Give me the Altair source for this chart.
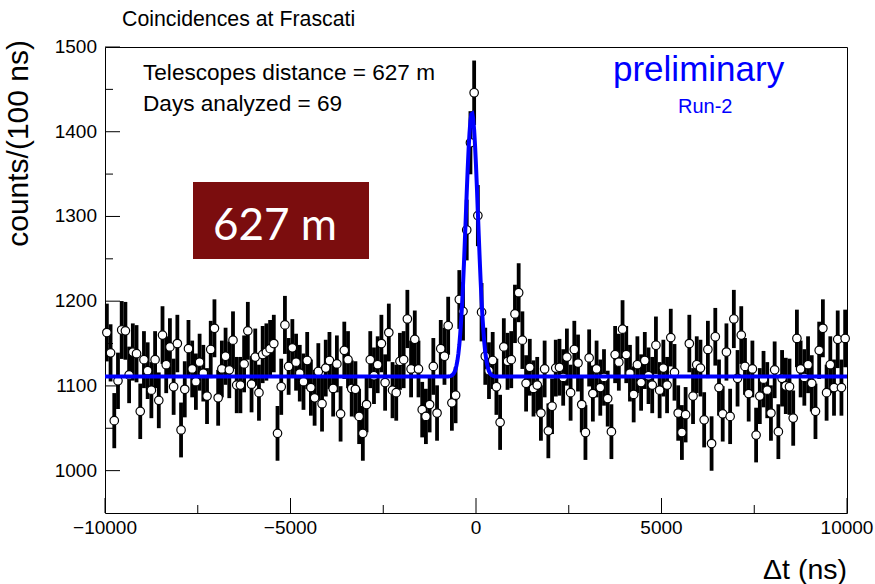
import altair as alt
import numpy as np
import pandas as pd

# Coincidence counts per 100 ns bin, from -10000 ns to +10000 ns
counts = [
    1163, 1139, 1059, 1106, 1166, 1165, 1113, 1140, 1138, 1070,
    1131, 1118, 1095, 1131, 1083, 1160, 1125, 1146, 1099, 1150,
    1048, 1096, 1144, 1120, 1105, 1128, 1115, 1088, 1143, 1168,
    1086, 1120, 1135, 1119, 1154, 1101, 1101, 1126, 1165, 1102,
    1134, 1092, 1137, 1140, 1144, 1150, 1044, 1099, 1172, 1123,
    1145, 1128, 1115, 1105, 1130, 1098, 1086, 1117, 1079, 1121,
    1130, 1097, 1126, 1067, 1142, 1131, 1097, 1096, 1064, 1044,
    1078, 1131, 1112, 1125, 1150, 1104, 1163, 1095, 1092, 1129,
    1131, 1179, 1120, 1155, 1120, 1072, 1064, 1078, 1123, 1068,
    1144, 1135, 1171, 1080, 1089, 1202, 1188, 1284, 1387, 1446,
    1301, 1187, 1135, 1118, 1130, 1099, 1057, 1146, 1129, 1131,
    1185, 1210, 1154, 1103, 1122, 1097, 1101, 1068, 1120, 1047,
    1076, 1121, 1122, 1110, 1134, 1092, 1143, 1127, 1078, 1045,
    1133, 1091, 1120, 1098, 1110, 1085, 1046, 1137, 1128, 1167,
    1137, 1115, 1090, 1125, 1104, 1130, 1112, 1101, 1148, 1095,
    1121, 1101, 1157, 1116, 1068, 1045, 1066, 1150, 1088, 1125,
    1121, 1060, 1143, 1032, 1158, 1098, 1067, 1140, 1064, 1179,
    1109, 1160, 1123, 1091, 1120, 1042, 1088, 1108, 1095, 1068,
    1119, 1046, 1109, 1100, 1099, 1062, 1156, 1120, 1110, 1125,
    1103, 1070, 1142, 1168, 1092, 1125, 1098, 1155, 1098, 1156,
]

t_min, t_max = -10000, 10000
bin_width = 100
y_min, y_max = 950, 1500

# Gaussian + constant fit parameters
fit_const = 1111.0
fit_amp = 311.0
fit_mean = -110.0
fit_sigma = 165.0

x_major = [-10000, -5000, 0, 5000, 10000]
x_minor = [-7500, -2500, 2500, 7500]
y_major = [1000, 1100, 1200, 1300, 1400, 1500]
y_minor = [1050, 1150, 1250, 1350, 1450]

W, H = 742, 466
FONT = "Liberation Sans"
TICK_FONT_SIZE = 19

centers = [t_min + bin_width * (i + 0.5) for i in range(len(counts))]
hist = pd.DataFrame({"t": centers, "n": counts})
hist["lo"] = hist["n"] - np.sqrt(hist["n"])
hist["hi"] = hist["n"] + np.sqrt(hist["n"])

tf = np.linspace(t_min, t_max, 801)
fit = pd.DataFrame({
    "t": tf,
    "f": fit_const + fit_amp * np.exp(-0.5 * ((tf - fit_mean) / fit_sigma) ** 2),
})

xs = alt.Scale(domain=[t_min, t_max], nice=False, zero=False)
ys = alt.Scale(domain=[y_min, y_max], nice=False, zero=False)

errbars = alt.Chart(hist).mark_rule(color="black", strokeWidth=3.8).encode(
    x=alt.X("t:Q", scale=xs, axis=None),
    y=alt.Y("lo:Q", scale=ys, axis=None),
    y2="hi:Q",
)

markers = alt.Chart(hist).mark_point(
    shape="circle", filled=True, fill="white", stroke="black",
    strokeWidth=1.2, size=72, opacity=1,
).encode(
    x=alt.X("t:Q", scale=xs, axis=None),
    y=alt.Y("n:Q", scale=ys, axis=None),
)

fit_line = alt.Chart(fit).mark_line(color="#0000ff", strokeWidth=4).encode(
    x=alt.X("t:Q", scale=xs, axis=None),
    y=alt.Y("f:Q", scale=ys, axis=None),
)


def x_ticks(vals, length):
    return alt.Chart(pd.DataFrame({"t": vals})).mark_rule(color="black", strokeWidth=1).encode(
        x=alt.X("t:Q", scale=xs, axis=None),
        y=alt.value(H),
        y2=alt.value(H - length),
    )


def y_ticks(vals, length):
    return alt.Chart(pd.DataFrame({"v": vals})).mark_rule(color="black", strokeWidth=1).encode(
        y=alt.Y("v:Q", scale=ys, axis=None),
        x=alt.value(0),
        x2=alt.value(length),
    )


# Tick labels placed through the data scales
x_tick_labels = alt.Chart(pd.DataFrame({"t": x_major})).mark_text(
    font=FONT, fontSize=TICK_FONT_SIZE, color="black", align="center", baseline="top",
).encode(
    x=alt.X("t:Q", scale=xs, axis=None),
    y=alt.value(H + 6),
    text=alt.Text("t:Q", format="d"),
)

y_tick_labels = alt.Chart(pd.DataFrame({"v": y_major})).mark_text(
    font=FONT, fontSize=TICK_FONT_SIZE, color="black", align="right", baseline="middle",
).encode(
    y=alt.Y("v:Q", scale=ys, axis=None),
    x=alt.value(-8),
    text=alt.Text("v:Q", format="d"),
)


def label(text, x, y, size, color="black", font=FONT, align="left", baseline="alphabetic", angle=0):
    return alt.Chart(pd.DataFrame({"s": [text]})).mark_text(
        font=font, fontSize=size, color=color, align=align, baseline=baseline, angle=angle,
    ).encode(x=alt.value(x), y=alt.value(y), text="s:N")


box = alt.Chart(pd.DataFrame({"k": [0]})).mark_rect(color="#7b0d0e").encode(
    x=alt.value(88), x2=alt.value(264), y=alt.value(135), y2=alt.value(212),
)

chart = alt.layer(
    errbars,
    markers,
    fit_line,
    x_ticks(x_major, 15),
    x_ticks(x_minor, 8),
    y_ticks(y_major, 15),
    y_ticks(y_minor, 8),
    x_tick_labels,
    y_tick_labels,
    box,
    label("627 m", 108, 193, 44, color="white", font="Lato"),
    label("Coincidences at Frascati", 17, -21, 21.3),
    label("Telescopes distance = 627 m", 38, 33, 22.6),
    label("Days analyzed = 69", 38, 64, 22.6),
    label("preliminary", 508, 34, 35, color="#0000ff"),
    label("Run-2", 573, 66, 20, color="#0000ff"),
    label("counts/(100 ns)", -86, -7, 30, align="right", baseline="middle", angle=270),
    label("\u0394t (ns)", W, 532, 28.5, align="right"),
).properties(
    width=W,
    height=H,
    autosize=alt.AutoSizeParams(type="none"),
    padding={"left": 105, "top": 47, "right": 28, "bottom": 71},
    background="white",
).configure_view(stroke="black", strokeWidth=1)

chart.save("out.html", embed_options={"renderer": "svg", "actions": False})
